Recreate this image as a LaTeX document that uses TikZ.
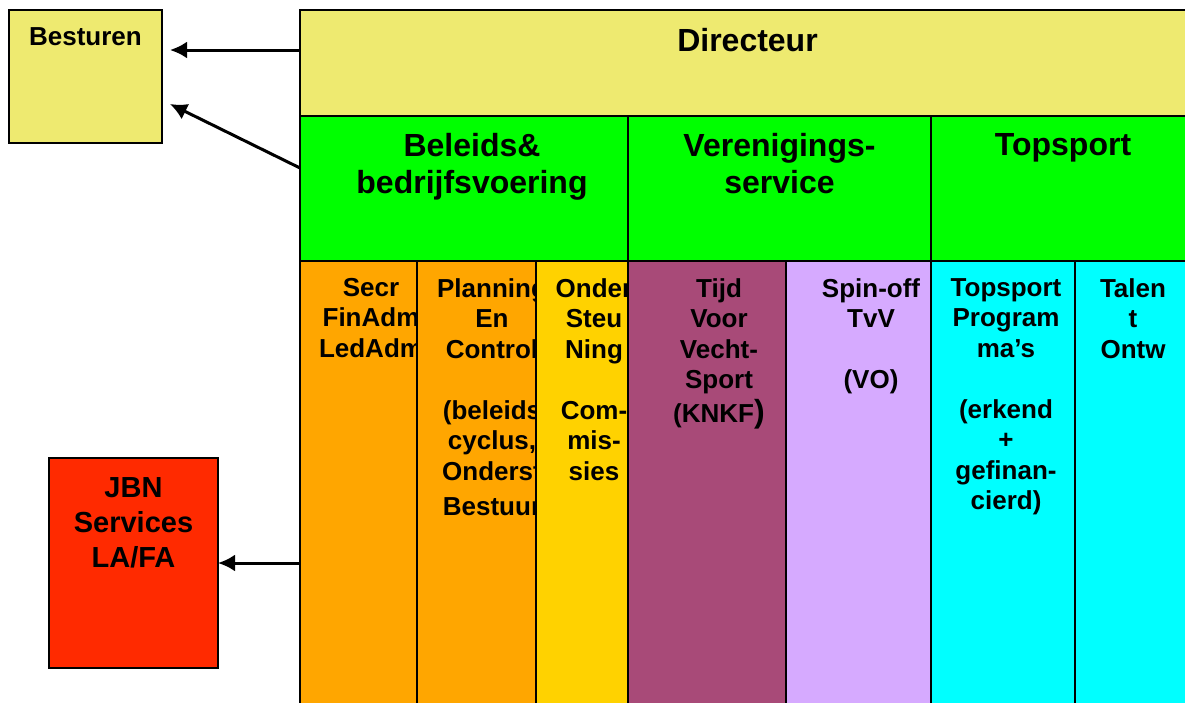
\documentclass[tikz,border=0pt]{standalone}
\usepackage{fontspec}
\setmainfont{Liberation Sans}
\usetikzlibrary{positioning}
\usetikzlibrary{calc}
\usetikzlibrary{arrows.meta}
\definecolor{khaki}{RGB}{238,234,112}
\definecolor{lime}{RGB}{0,255,0}
\definecolor{jbnred}{RGB}{255,42,0}
\definecolor{oranje}{RGB}{255,166,0}
\definecolor{goud}{RGB}{255,210,0}
\definecolor{paars}{RGB}{168,74,120}
\definecolor{lila}{RGB}{214,170,255}
\definecolor{aqua}{RGB}{0,255,255}
\tikzstyle{box}=[draw=black, line width=1.8pt, inner sep=0pt, outer sep=0pt, anchor=north west]
\tikzstyle{lbl}=[font=\bfseries\fontsize{26}{30.5}\selectfont, align=center, inner sep=0pt, anchor=north]
\tikzstyle{head}=[font=\bfseries\fontsize{32}{37}\selectfont, align=center, inner sep=0pt, anchor=north]
\tikzstyle{arr}=[draw=black, line width=3pt, -{Latex[length=17pt, width=17pt]}]

\begin{document}
\begin{tikzpicture}[x=1pt, y=-1pt]
      \useasboundingbox (0,0) rectangle (1185,702);
      \clip (0,0) rectangle (1185,702);

      % linker blokken
      \node[box, fill=khaki, minimum width=153pt, minimum height=133pt] (besturen) at (9,10) {};
      \node[lbl, below=17pt of besturen.north] {Besturen};
      \node[box, fill=jbnred, minimum width=169pt, minimum height=210pt] (jbn) at (49,458) {};
      \node[lbl, font=\bfseries\fontsize{29}{35}\selectfont, below=19.5pt of jbn.north]
          {JBN\\Services\\LA/FA};

      % directeur + afdelingen
      \node[box, fill=khaki, minimum width=895pt, minimum height=106pt] (dir) at (300,10) {};
      \node[head, below=18.5pt of dir.north] {Directeur};
      \node[box, fill=lime, minimum width=328pt, minimum height=145pt] (beleid) at (300,116) {};
      \node[box, fill=lime, minimum width=303pt, minimum height=145pt] (vereniging) at (628,116) {};
      \node[box, fill=lime, minimum width=264pt, minimum height=145pt] (topsport) at (931,116) {};
      \node[head, below=17.5pt of beleid.north, xshift=8pt] {Beleids\&\\bedrijfsvoering};
      \node[head, below=17.5pt of vereniging.north] {Verenigings-\\service};
      \node[head, below=17.5pt of topsport.north] {Topsport};

      % kolommen, van links naar rechts (volgende kolom dekt uitstekende tekst af)
      \node[box, fill=oranje, minimum width=117pt, minimum height=451pt] (secr) at (300,261) {};
      \node[lbl] at (371,278) {Secr\\FinAdm\\LedAdm};
      \node[box, fill=oranje, minimum width=119pt, minimum height=451pt] (planning) at (417,261) {};
      \node[lbl] at (492,278)
          {Planning\\En\\Control\\[30.5pt](beleids\\cyclus,\\Onderst\\[4.5pt]Bestuur};
      \node[box, fill=goud, minimum width=92pt, minimum height=451pt] (steun) at (536,261) {};
      \node[lbl] at (594,278) {Onder\\Steu\\Ning\\[30.5pt]Com-\\mis-\\sies};
      \node[box, fill=paars, minimum width=158pt, minimum height=451pt] (tvv) at (628,261) {};
      \node[lbl] at (719,278)
          {Tijd\\Voor\\Vecht-\\Sport\\[3pt](KNKF{\fontsize{32}{30}\selectfont)}};
      \node[box, fill=lila, minimum width=145pt, minimum height=451pt] (spinoff) at (786,261) {};
      \node[lbl] at (871,278) {Spin-off\\TvV\\[30.5pt](VO)};
      \node[box, fill=aqua, minimum width=144pt, minimum height=451pt] (programma) at (931,261) {};
      \node[lbl] at (1006,278)
          {Topsport\\Program\\ma’s\\[30.5pt](erkend\\+\\gefinan-\\cierd)};
      \node[box, fill=aqua, minimum width=120pt, minimum height=451pt] (talent) at (1075,261) {};
      \node[lbl] at (1133,278) {Talen\\t\\Ontw};

      % pijlen
      \coordinate (b1) at ($(besturen.north east)+(8,40)$);
      \coordinate (b2) at ($(besturen.north east)+(8,94)$);
      \draw[arr] ($(dir.north west)+(0,40)$) -- (b1);
      \draw[arr] ($(beleid.north west)+(0,52)$) -- (b2);
      \draw[arr] (secr.west |- jbn.east) -- (jbn.east);
\end{tikzpicture}
\end{document}
